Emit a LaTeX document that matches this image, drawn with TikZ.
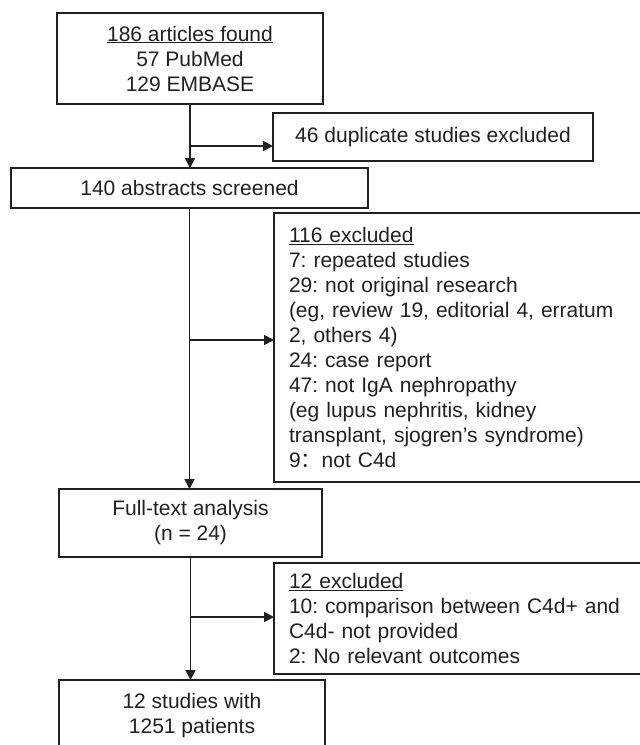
\documentclass[tikz,border=0pt]{standalone}
\usepackage{fontspec}
\setmainfont{Liberation Sans}
\newfontfamily\cjk{Noto Sans CJK SC}
\usetikzlibrary{arrows.meta, positioning}
\definecolor{inkgray}{RGB}{35, 31, 32}
\frenchspacing

\begin{document}
\begin{tikzpicture}[x=1pt, y=-1pt,
    box/.style={draw=inkgray, line width=2pt, inner sep=0pt, outer sep=0pt, anchor=north west, align=center, text=inkgray, font=\fontsize{21}{25}\selectfont},
    sidebox/.style={box, align=left, minimum width=400pt, text width=370pt, inner xsep=15pt},
    flow/.style={draw=inkgray, line width=1.7pt, -{Triangle[length=10pt, width=10pt]}}]
    \useasboundingbox (0,0) rectangle (640,745);
    \clip (0,0) rectangle (640,745);

    % Main boxes
    \node[box, minimum width=266pt, minimum height=91pt] (found) at (57,13) {\underline{186 articles found}\\57 PubMed\\129 EMBASE};
    \node[box, minimum width=320pt, minimum height=48pt] (dupl) at (273,113) {46 duplicate studies excluded};
    \node[box, minimum width=357pt, minimum height=40pt] (screen) at (11,168) {140 abstracts screened};
    \node[box, minimum width=263pt, minimum height=68pt] (fulltext) at (59,489) {Full-text analysis\\(n = 24)};
    \node[box, minimum width=266pt, minimum height=72pt] (final) at (59,680) {12 studies with\\1251 patients};

    % Exclusion boxes
    \node[sidebox, minimum height=269pt] (excl1) at (274,213) {\underline{116 excluded}\\7: repeated studies\\29: not original research\\(eg, review 19, editorial 4, erratum\\2, others 4)\\24: case report\\47: not IgA nephropathy\\(eg lupus nephritis, kidney\\transplant, sjogren’s syndrome)\\9{\cjk ：}not C4d};
    \node[sidebox, minimum height=111pt] (excl2) at (274,563) {\underline{12 excluded}\\10: comparison between C4d+ and\\C4d- not provided\\2: No relevant outcomes};

    % Branch points
    \coordinate (j1) at ([yshift=-42pt]found.south);
    \coordinate (j2) at ([yshift=-132pt]screen.south);
    \coordinate (j3) at ([yshift=-60pt]fulltext.south);

    % Arrows
    \draw[flow] (found.south) -- (found.south |- screen.north);
    \draw[flow] (j1) -- (j1 -| dupl.west);
    \draw[flow] (screen.south) -- (screen.south |- fulltext.north);
    \draw[flow] (j2) -- (j2 -| excl1.west);
    \draw[flow] (fulltext.south) -- (fulltext.south |- final.north);
    \draw[flow] (j3) -- (j3 -| excl2.west);
\end{tikzpicture}
\end{document}
